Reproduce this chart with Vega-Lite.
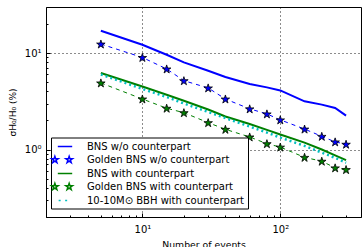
{
  "$schema": "https://vega.github.io/schema/vega-lite/v6.json",
  "width": 315,
  "height": 210,
  "autosize": {"type": "none"},
  "padding": {"left": 46, "top": 7, "right": 1, "bottom": 30},
  "background": "white",
  "config": {
    "view": {"stroke": "black", "strokeWidth": 1},
    "font": "DejaVu Sans",
    "axis": {"domainColor": "black", "tickColor": "black", "labelColor": "black", "titleColor": "black", "titleFontWeight": "normal", "domainWidth": 1, "tickWidth": 1}
  },
  "data": {"values": [
    {"series": "Golden BNS w/o counterpart", "n": 5, "v": 12.4},
    {"series": "Golden BNS w/o counterpart", "n": 10, "v": 9.0},
    {"series": "Golden BNS w/o counterpart", "n": 15, "v": 6.84},
    {"series": "Golden BNS w/o counterpart", "n": 20, "v": 5.17},
    {"series": "Golden BNS w/o counterpart", "n": 30, "v": 4.35},
    {"series": "Golden BNS w/o counterpart", "n": 40, "v": 3.34},
    {"series": "Golden BNS w/o counterpart", "n": 60, "v": 2.64},
    {"series": "Golden BNS w/o counterpart", "n": 80, "v": 2.34},
    {"series": "Golden BNS w/o counterpart", "n": 100, "v": 2.03},
    {"series": "Golden BNS w/o counterpart", "n": 150, "v": 1.63},
    {"series": "Golden BNS w/o counterpart", "n": 200, "v": 1.37},
    {"series": "Golden BNS w/o counterpart", "n": 250, "v": 1.20},
    {"series": "Golden BNS w/o counterpart", "n": 300, "v": 1.135},
    {"series": "Golden BNS with counterpart", "n": 5, "v": 4.9},
    {"series": "Golden BNS with counterpart", "n": 10, "v": 3.34},
    {"series": "Golden BNS with counterpart", "n": 15, "v": 2.68},
    {"series": "Golden BNS with counterpart", "n": 20, "v": 2.41},
    {"series": "Golden BNS with counterpart", "n": 30, "v": 1.9},
    {"series": "Golden BNS with counterpart", "n": 40, "v": 1.62},
    {"series": "Golden BNS with counterpart", "n": 60, "v": 1.35},
    {"series": "Golden BNS with counterpart", "n": 80, "v": 1.15},
    {"series": "Golden BNS with counterpart", "n": 100, "v": 1.06},
    {"series": "Golden BNS with counterpart", "n": 150, "v": 0.83},
    {"series": "Golden BNS with counterpart", "n": 200, "v": 0.757},
    {"series": "Golden BNS with counterpart", "n": 250, "v": 0.646},
    {"series": "Golden BNS with counterpart", "n": 300, "v": 0.62},
    {"series": "10-10M⊙ BBH with counterpart", "n": 5, "v": 6.0},
    {"series": "10-10M⊙ BBH with counterpart", "n": 10, "v": 4.25},
    {"series": "10-10M⊙ BBH with counterpart", "n": 15, "v": 3.5},
    {"series": "10-10M⊙ BBH with counterpart", "n": 20, "v": 3.0},
    {"series": "10-10M⊙ BBH with counterpart", "n": 30, "v": 2.45},
    {"series": "10-10M⊙ BBH with counterpart", "n": 40, "v": 2.12},
    {"series": "10-10M⊙ BBH with counterpart", "n": 60, "v": 1.73},
    {"series": "10-10M⊙ BBH with counterpart", "n": 80, "v": 1.5},
    {"series": "10-10M⊙ BBH with counterpart", "n": 100, "v": 1.33},
    {"series": "10-10M⊙ BBH with counterpart", "n": 150, "v": 1.09},
    {"series": "10-10M⊙ BBH with counterpart", "n": 200, "v": 0.93},
    {"series": "10-10M⊙ BBH with counterpart", "n": 250, "v": 0.82},
    {"series": "10-10M⊙ BBH with counterpart", "n": 300, "v": 0.73}
  ]},
  "encoding": {
    "x": {"field": "n", "type": "quantitative", "scale": {"type": "log", "domain": [2, 385], "nice": false},
      "axis": {"orient": "bottom", "values": [2, 3, 4, 5, 6, 7, 8, 9, 10, 20, 30, 40, 50, 60, 70, 80, 90, 100, 200, 300],
        "labelExpr": "datum.value == 10 ? '10¹' : (datum.value == 100 ? '10²' : '')",
        "labelFontSize": 10, "labelPadding": 11, "labelFlush": false, "labelOverlap": false,
        "tickSize": {"condition": {"test": "datum.value == 10 || datum.value == 100", "value": -4}, "value": -2},
        "grid": true, "gridColor": "black", "gridDash": [1, 3],
        "gridOpacity": {"condition": {"test": "datum.value == 10 || datum.value == 100", "value": 0.9}, "value": 0},
        "title": "Number of events", "titleFontSize": 9.3, "titlePadding": 4}},
    "y": {"field": "v", "type": "quantitative", "scale": {"type": "log", "domain": [0.2, 30], "nice": false},
      "axis": {"orient": "left", "values": [0.3, 0.4, 0.5, 0.6, 0.7, 0.8, 0.9, 1, 2, 3, 4, 5, 6, 7, 8, 9, 10, 20],
        "labelExpr": "datum.value == 1 ? '10⁰' : (datum.value == 10 ? '10¹' : '')",
        "labelFontSize": 10, "labelPadding": 9, "labelFlush": false, "labelOverlap": false,
        "tickSize": {"condition": {"test": "datum.value == 1 || datum.value == 10", "value": -4}, "value": -2},
        "grid": true, "gridColor": "black", "gridDash": [1, 3],
        "gridOpacity": {"condition": {"test": "datum.value == 1 || datum.value == 10", "value": 0.9}, "value": 0},
        "title": "σH₀/H₀ (%)", "titleFontSize": 9, "titlePadding": 7}}
  },
  "layer": [
    {
      "data": {"values": [
        {"series": "BNS w/o counterpart", "n": 5, "v": 17.0},
        {"series": "BNS w/o counterpart", "n": 10, "v": 12.2},
        {"series": "BNS w/o counterpart", "n": 15, "v": 9.6},
        {"series": "BNS w/o counterpart", "n": 20, "v": 8.0},
        {"series": "BNS w/o counterpart", "n": 30, "v": 6.56},
        {"series": "BNS w/o counterpart", "n": 40, "v": 5.65},
        {"series": "BNS w/o counterpart", "n": 60, "v": 4.78},
        {"series": "BNS w/o counterpart", "n": 80, "v": 4.41},
        {"series": "BNS w/o counterpart", "n": 100, "v": 4.10},
        {"series": "BNS w/o counterpart", "n": 150, "v": 3.16},
        {"series": "BNS w/o counterpart", "n": 200, "v": 2.92},
        {"series": "BNS w/o counterpart", "n": 250, "v": 2.70},
        {"series": "BNS w/o counterpart", "n": 300, "v": 2.25},
        {"series": "BNS with counterpart", "n": 5, "v": 6.21},
        {"series": "BNS with counterpart", "n": 10, "v": 4.5},
        {"series": "BNS with counterpart", "n": 15, "v": 3.7},
        {"series": "BNS with counterpart", "n": 20, "v": 3.2},
        {"series": "BNS with counterpart", "n": 30, "v": 2.6},
        {"series": "BNS with counterpart", "n": 40, "v": 2.2},
        {"series": "BNS with counterpart", "n": 60, "v": 1.84},
        {"series": "BNS with counterpart", "n": 80, "v": 1.6},
        {"series": "BNS with counterpart", "n": 100, "v": 1.43},
        {"series": "BNS with counterpart", "n": 150, "v": 1.18},
        {"series": "BNS with counterpart", "n": 200, "v": 1.0},
        {"series": "BNS with counterpart", "n": 250, "v": 0.87},
        {"series": "BNS with counterpart", "n": 300, "v": 0.776}
      ]},
      "mark": {"type": "line", "strokeWidth": 2},
      "encoding": {
        "color": {"field": "series", "type": "nominal",
          "scale": {"domain": ["BNS w/o counterpart", "Golden BNS w/o counterpart", "BNS with counterpart", "Golden BNS with counterpart", "10-10M⊙ BBH with counterpart"], "range": ["#0000ff", "#0000ff", "#008000", "#008000", "#00bfbf"]},
          "legend": {
            "orient": "none", "legendX": 5, "legendY": 130.5, "title": null,
            "fillColor": "white", "strokeColor": "black", "padding": 3,
            "symbolSize": 100, "symbolOffset": 5, "labelOffset": 16, "rowPadding": 1,
            "encode": {"symbols": {"update": {
              "shape": {"signal": "indexof(datum.value, 'Golden') == 0 ? 'M-2.03,-0.633L-1.871,-0.151L-1.364,-0.149L-1.773,0.15L-1.619,0.633L-2.03,0.337L-2.441,0.633L-2.287,0.15L-2.696,-0.149L-2.189,-0.151ZM0.83,-0.633L0.989,-0.151L1.496,-0.149L1.087,0.15L1.241,0.633L0.83,0.337L0.419,0.633L0.573,0.15L0.164,-0.149L0.671,-0.151Z' : (indexof(datum.value, '10-10') == 0 ? 'M-1.27,0H-0.87M0.03,0H0.43' : 'M-1.44,0H1.44')"},
              "stroke": {"signal": "indexof(datum.value, 'w/o') >= 0 ? '#0000ff' : (indexof(datum.value, '10-10') == 0 ? '#00bfbf' : '#008000')"}
            }}}
          }}
      }
    },
    {
      "transform": [{"filter": "datum.series == 'Golden BNS w/o counterpart'"}],
      "mark": {"type": "line", "strokeWidth": 1, "strokeDash": [4, 4], "color": "#0000ff"},
      "encoding": {}
    },
    {
      "transform": [{"filter": "datum.series == 'Golden BNS with counterpart'"}],
      "mark": {"type": "line", "strokeWidth": 1, "strokeDash": [4, 4], "color": "#008000"},
      "encoding": {}
    },
    {
      "transform": [{"filter": "indexof(datum.series, '10-10') == 0"}],
      "mark": {"type": "line", "strokeWidth": 2.5, "strokeDash": [2, 3], "strokeCap": "butt", "color": "#00bfbf"},
      "encoding": {}
    },
    {
      "transform": [{"filter": "datum.series == 'Golden BNS w/o counterpart'"}],
      "mark": {"type": "point", "shape": "M0,-0.905L0.225,-0.214L0.951,-0.214L0.363,0.213L0.588,0.905L0,0.477L-0.588,0.905L-0.363,0.213L-0.951,-0.214L-0.225,-0.214Z", "filled": true, "size": 80, "fill": "#0000ff", "stroke": "black", "strokeWidth": 0.8, "opacity": 1},
      "encoding": {}
    },
    {
      "transform": [{"filter": "datum.series == 'Golden BNS with counterpart'"}],
      "mark": {"type": "point", "shape": "M0,-0.905L0.225,-0.214L0.951,-0.214L0.363,0.213L0.588,0.905L0,0.477L-0.588,0.905L-0.363,0.213L-0.951,-0.214L-0.225,-0.214Z", "filled": true, "size": 80, "fill": "#008000", "stroke": "black", "strokeWidth": 0.8, "opacity": 1},
      "encoding": {}
    }
  ]
}
